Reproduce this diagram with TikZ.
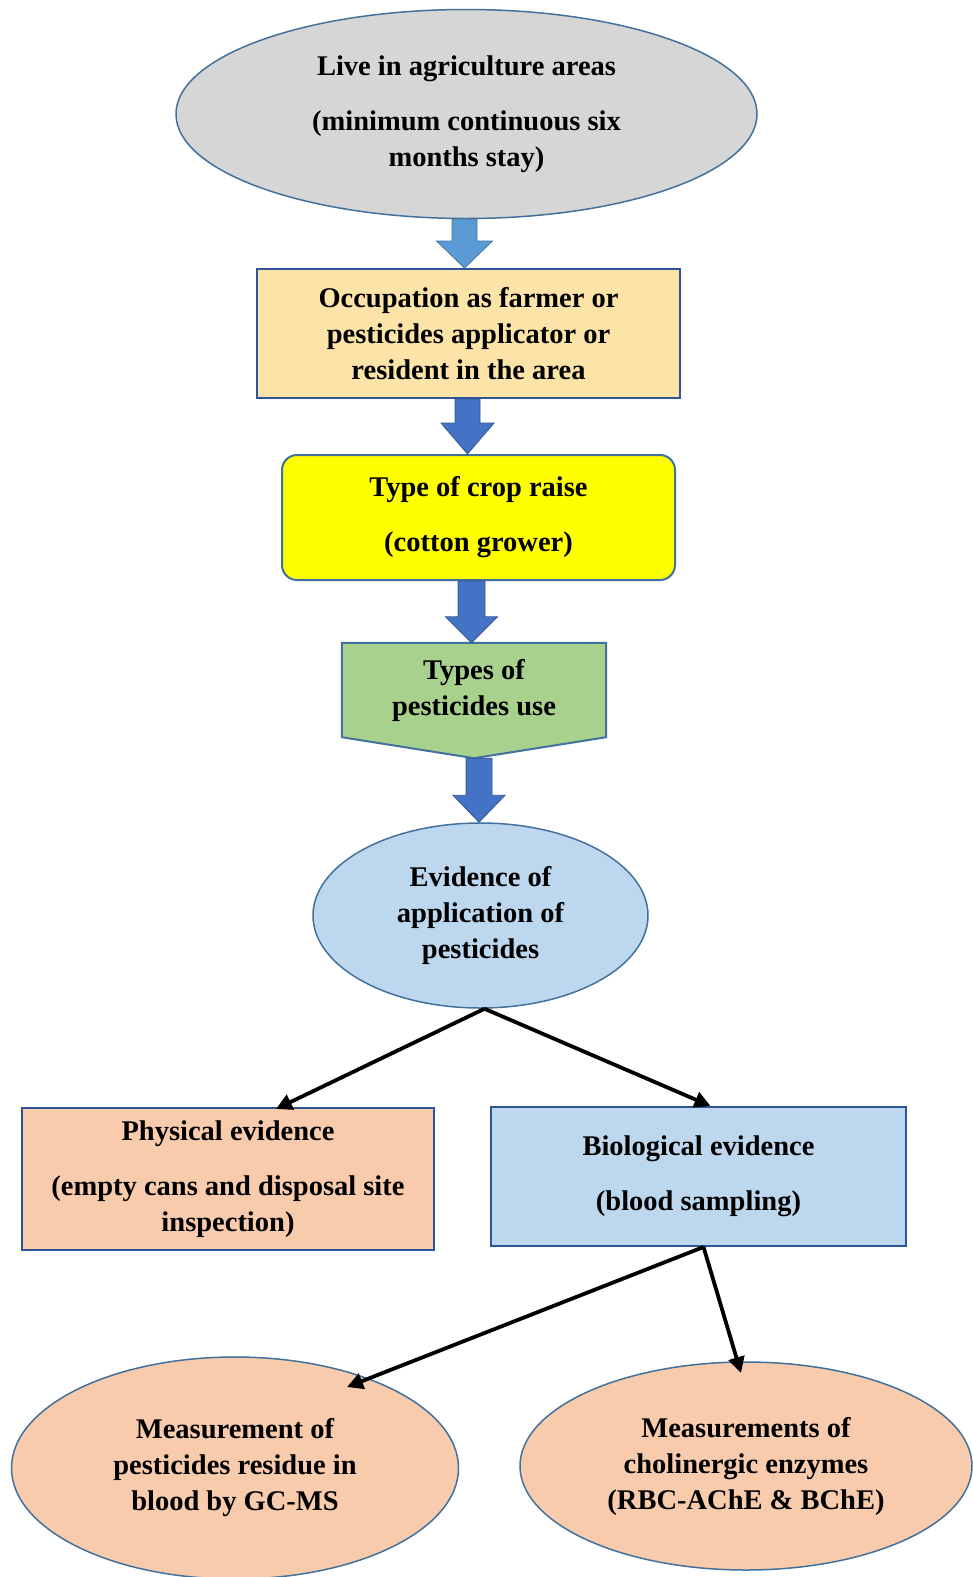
\documentclass[tikz,border=0pt]{standalone}
\usepackage{fontspec}
\setmainfont{Liberation Serif}
\usetikzlibrary{calc,arrows.meta,shapes.geometric}
\pgfdeclarelayer{background}
\pgfdeclarelayer{paper}
\pgfsetlayers{paper,background,main}
\definecolor{topgray}{HTML}{D6D6D6}
\definecolor{occfill}{HTML}{FCE4A8}
\definecolor{cropfill}{HTML}{FFFF00}
\definecolor{pentgreen}{HTML}{A9D18E}
\definecolor{lightblue}{HTML}{BDD7EE}
\definecolor{peach}{HTML}{F8CBAD}
\definecolor{edgeblue}{HTML}{41719C}
\definecolor{boxblue}{HTML}{2F5597}
\definecolor{arrowlight}{HTML}{5B9BD5}
\definecolor{arrowblue}{HTML}{4472C4}
\newcommand\blockarrow[7]{%
  \filldraw[fill=#7, draw=#7!75!black, line width=0.8pt] let \p1=(#2), \p2=(#3) in
  (#1pt-#4pt,\y1) -- (#1pt+#4pt,\y1) -- (#1pt+#4pt,\y2+#6pt) -- (#1pt+#5pt,\y2+#6pt)
  -- (#1pt,\y2) -- (#1pt-#5pt,\y2+#6pt) -- (#1pt-#4pt,\y2+#6pt) -- cycle;}
\begin{document}
\begin{tikzpicture}[x=1pt,y=-1pt,
  lbl/.style={font=\fontsize{28.5}{36}\selectfont\bfseries, align=center, text=black},
  ell/.style={ellipse, draw=edgeblue, line width=1.5pt, inner sep=0pt, lbl},
  box/.style={rectangle, draw=boxblue, line width=2pt, inner sep=0pt, lbl},
  conn/.style={line width=3.8pt, -{Triangle[length=16pt,width=16pt]}}]
\begin{pgfonlayer}{paper}
\fill[white] (0,0) rectangle (972,1577);
\end{pgfonlayer}
\useasboundingbox (0,0) rectangle (972,1577);

\node[ell, fill=topgray, minimum width=581, minimum height=209] (live) at (466.5,114)
  {Live in agriculture areas\\[19pt](minimum continuous six\\months stay)};
\node[box, fill=occfill, minimum width=423, minimum height=129] (occ) at (468.5,333.5)
  {Occupation as farmer or\\pesticides applicator or\\resident in the area};
\node[box, draw=edgeblue, fill=cropfill, rounded corners=15, minimum width=393, minimum height=125] (crop) at (478.5,517.5)
  {Type of crop raise\\[19pt](cotton grower)};
\node[lbl, inner sep=0pt, minimum width=264, minimum height=94] (types) at (474,690)
  {Types of\\pesticides use};
\coordinate (typestip) at ($(types.south)+(0,21)$);
\begin{pgfonlayer}{background}
\filldraw[fill=pentgreen, draw=edgeblue, line width=2pt] (types.north west) -- (types.north east)
  -- (types.south east) -- (typestip) -- (types.south west) -- cycle;
\end{pgfonlayer}
\node[ell, fill=lightblue, minimum width=335, minimum height=185] (ev) at (480.5,915.5)
  {Evidence of\\application of\\pesticides};
\node[box, fill=peach, minimum width=412, minimum height=142] (phys) at (228,1179)
  {Physical evidence\\[19pt](empty cans and disposal site\\inspection)};
\node[box, fill=lightblue, minimum width=415, minimum height=139] (bio) at (698.5,1176.5)
  {Biological evidence\\[19pt](blood sampling)};
\node[ell, fill=peach, minimum width=447, minimum height=222] (lb) at (235,1468)
  {Measurement of\\pesticides residue in\\blood by GC-MS};
\node[ell, fill=peach, minimum width=452, minimum height=208] (rb) at (746,1466)
  {Measurements of\\cholinergic enzymes\\(RBC-AChE \& BChE)};

\blockarrow{464.5}{live.south}{occ.north}{12.5}{28}{27}{arrowlight}
\blockarrow{467.5}{occ.south}{crop.north}{12.5}{26.5}{31}{arrowblue}
\blockarrow{471.5}{crop.south}{types.north}{13.5}{26}{26}{arrowblue}
\blockarrow{479}{typestip}{ev.north}{13}{26}{27}{arrowblue}

\draw[conn] ($(ev.south)+(4,0)$) -- ($(phys.north)+(48,2)$);
\draw[conn] ($(ev.south)+(4,0)$) -- ($(bio.north)+(12,0)$);
\draw[conn] ($(bio.south)+(5,0)$) -- ($(lb.center)+(112,-81)$);
\draw[conn] ($(bio.south)+(5,0)$) -- ($(rb.center)+(-5,-93)$);
\end{tikzpicture}
\end{document}
